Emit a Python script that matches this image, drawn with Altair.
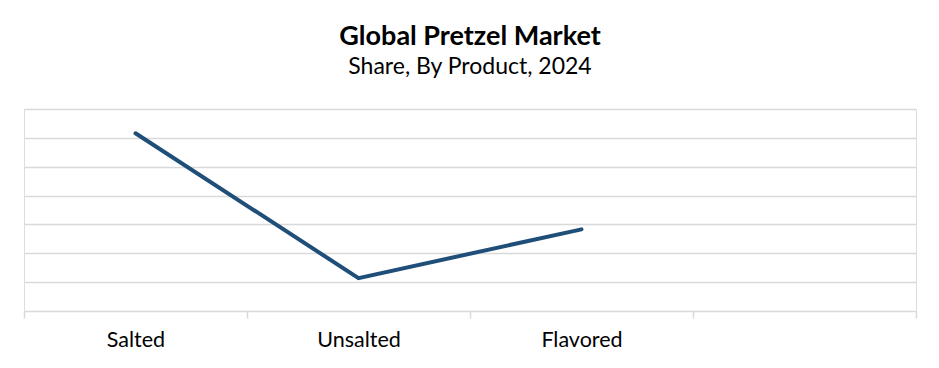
import altair as alt
import pandas as pd

categories = ["Salted", "Unsalted", "Flavored"]
shares = [6.16, 1.14, 2.83]

df = pd.DataFrame({"product": categories, "share": shares})

FONT = "Lato"
GRID = "#d9d9d9"

label_expr = ("datum.value == 0 ? 'Salted' : datum.value == 1 ? 'Unsalted' : "
              "datum.value == 2 ? 'Flavored' : ''")

chart = (
    alt.Chart(df)
    .transform_window(idx="row_number()")
    .transform_calculate(pos="datum.idx - 0.5")
    .mark_line(color="#1f4e79", strokeWidth=4, strokeCap="round")
    .encode(
        x=alt.X(
            "pos:Q",
            scale=alt.Scale(domain=[0, 4], nice=False, zero=False),
            axis=alt.Axis(
                values=[0, 1, 2, 3, 4],
                labelExpr=label_expr,
                labelOffset=111.5,
                labelOverlap=False,
                labelFlush=False,
                labelBound=False,
                labelFont=FONT,
                labelFontSize=21.5,
                labelColor="#000000",
                labelPadding=11,
                domainColor=GRID,
                domainWidth=1.5,
                tickColor=GRID,
                tickWidth=1.5,
                tickSize=7,
                grid=False,
                title=None,
            ),
        ),
        y=alt.Y(
            "share:Q",
            scale=alt.Scale(domain=[0, 7], nice=False),
            axis=alt.Axis(
                values=[1, 2, 3, 4, 5, 6, 7],
                labels=False,
                ticks=False,
                domain=False,
                grid=True,
                gridColor=GRID,
                gridWidth=1.5,
                title=None,
            ),
        ),
        order="idx:Q",
        tooltip=["product:N", "share:Q"],
    )
    .properties(
        width=892,
        height=202,
        autosize=alt.AutoSizeParams(type="none"),
        padding={"left": 16, "top": 101, "right": 15, "bottom": 49},
        title=alt.TitleParams(
            text="Global Pretzel Market",
            subtitle="Share, By Product, 2024",
            anchor="middle",
            font=FONT,
            fontSize=27,
            fontWeight="bold",
            color="#000000",
            subtitleFont=FONT,
            subtitleFontSize=23,
            subtitleColor="#000000",
            subtitlePadding=5,
            offset=29,
        ),
    )
    .configure_view(stroke="transparent", strokeWidth=0)
    .configure(background="#ffffff")
)

chart.save("out.html", embed_options={"renderer": "svg", "actions": False})
